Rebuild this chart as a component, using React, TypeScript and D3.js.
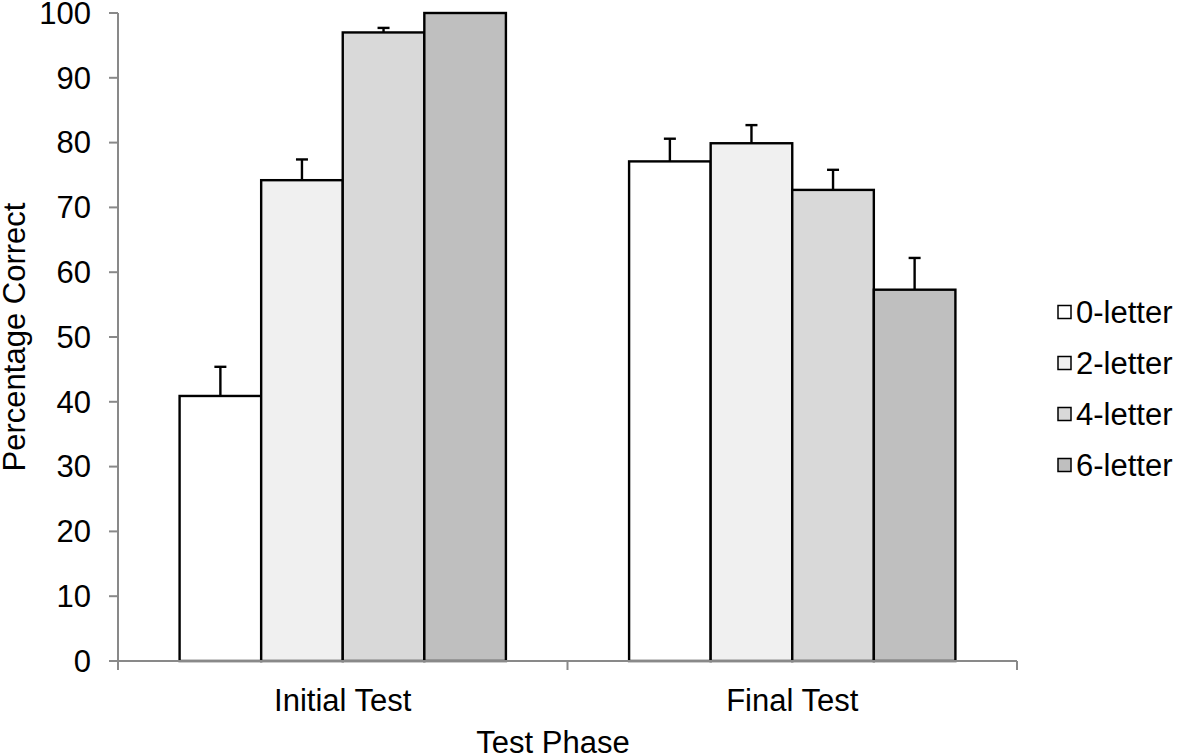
import React from "react";
import * as d3 from "d3";

const phases = ["Initial Test", "Final Test"];
const conditions = ["0-letter", "2-letter", "4-letter", "6-letter"];
const initialValues = [40.9, 74.2, 97.0, 100];
const initialErrors = [4.5, 3.2, 0.7, 0];
const finalValues = [77.1, 79.9, 72.7, 57.3];
const finalErrors = [3.5, 2.8, 3.1, 4.9];
const yTicks = [0, 10, 20, 30, 40, 50, 60, 70, 80, 90, 100];
const fills = ["#ffffff", "#f0f0f0", "#d9d9d9", "#bfbfbf"];

const W = 1181;
const H = 755;
const FONT = "Liberation Sans, Arial, sans-serif";
const FS = 31;

export default function App() {
  const x0 = d3.scaleBand<string>().domain(phases).range([118, 1017]).paddingInner(0).paddingOuter(0);
  const x1 = d3
    .scaleBand<string>()
    .domain(conditions)
    .range([0, x0.bandwidth()])
    .paddingInner(0)
    .paddingOuter(0.755);
  const y = d3.scaleLinear().domain([0, 100]).range([661, 13]);

  const data = [
    { phase: phases[0], values: initialValues, errors: initialErrors },
    { phase: phases[1], values: finalValues, errors: finalErrors },
  ];

  const axisColor = "#898989";

  return (
    <svg width={W} height={H} style={{ position: "absolute", left: 0, top: 0 }}>
      <rect width={W} height={H} fill="#fff" />
      {/* bars */}
      {data.map((g) =>
        g.values.map((v, i) => {
          const bx = (x0(g.phase) ?? 0) + (x1(conditions[i]) ?? 0);
          const bw = x1.bandwidth();
          return (
            <g key={g.phase + i}>
              <rect x={bx} y={y(v)} width={bw} height={y(0) - y(v)} fill={fills[i]} stroke="#000" strokeWidth={2.4} />
              {g.errors[i] > 0 && (
                <g stroke="#000" strokeWidth={2.4}>
                  <line x1={bx + bw / 2} x2={bx + bw / 2} y1={y(v)} y2={y(v + g.errors[i])} />
                  <line x1={bx + bw / 2 - 6} x2={bx + bw / 2 + 6} y1={y(v + g.errors[i])} y2={y(v + g.errors[i])} />
                </g>
              )}
            </g>
          );
        })
      )}
      {/* y axis */}
      <line x1={118} x2={118} y1={y(100)} y2={y(0)} stroke={axisColor} strokeWidth={2} />
      {yTicks.map((t) => (
        <g key={t}>
          <line x1={109} x2={118} y1={y(t)} y2={y(t)} stroke={axisColor} strokeWidth={2} />
          <text x={91} y={y(t)} dy="0.35em" textAnchor="end" fontFamily={FONT} fontSize={FS} fill="#000">
            {t}
          </text>
        </g>
      ))}
      {/* x axis */}
      <line x1={118} x2={1017} y1={y(0)} y2={y(0)} stroke={axisColor} strokeWidth={2} />
      {[118, ...phases.map((p) => (x0(p) ?? 0) + x0.bandwidth())].map((tx, i) => (
        <line key={i} x1={tx} x2={tx} y1={y(0)} y2={y(0) + 9} stroke={axisColor} strokeWidth={2} />
      ))}
      {phases.map((p) => (
        <text
          key={p}
          x={(x0(p) ?? 0) + x0.bandwidth() / 2}
          y={700}
          dy="0.35em"
          textAnchor="middle"
          fontFamily={FONT}
          fontSize={FS}
          fill="#000"
        >
          {p}
        </text>
      ))}
      <text x={553} y={742} dy="0.35em" textAnchor="middle" fontFamily={FONT} fontSize={FS} fill="#000">
        Test Phase
      </text>
      <text
        transform={`translate(14,${337}) rotate(-90)`}
        dy="0.35em"
        textAnchor="middle"
        fontFamily={FONT}
        fontSize={FS}
        fill="#000"
      >
        Percentage Correct
      </text>
      {/* legend */}
      {conditions.map((c, i) => {
        const ly = 312 + i * 51;
        return (
          <g key={c}>
            <rect x={1058} y={ly - 6.5} width={13} height={13} fill={fills[i]} stroke="#000" strokeWidth={1.5} />
            <text x={1076} y={ly} dy="0.35em" fontFamily={FONT} fontSize={FS} fill="#000">
              {c}
            </text>
          </g>
        );
      })}
    </svg>
  );
}
